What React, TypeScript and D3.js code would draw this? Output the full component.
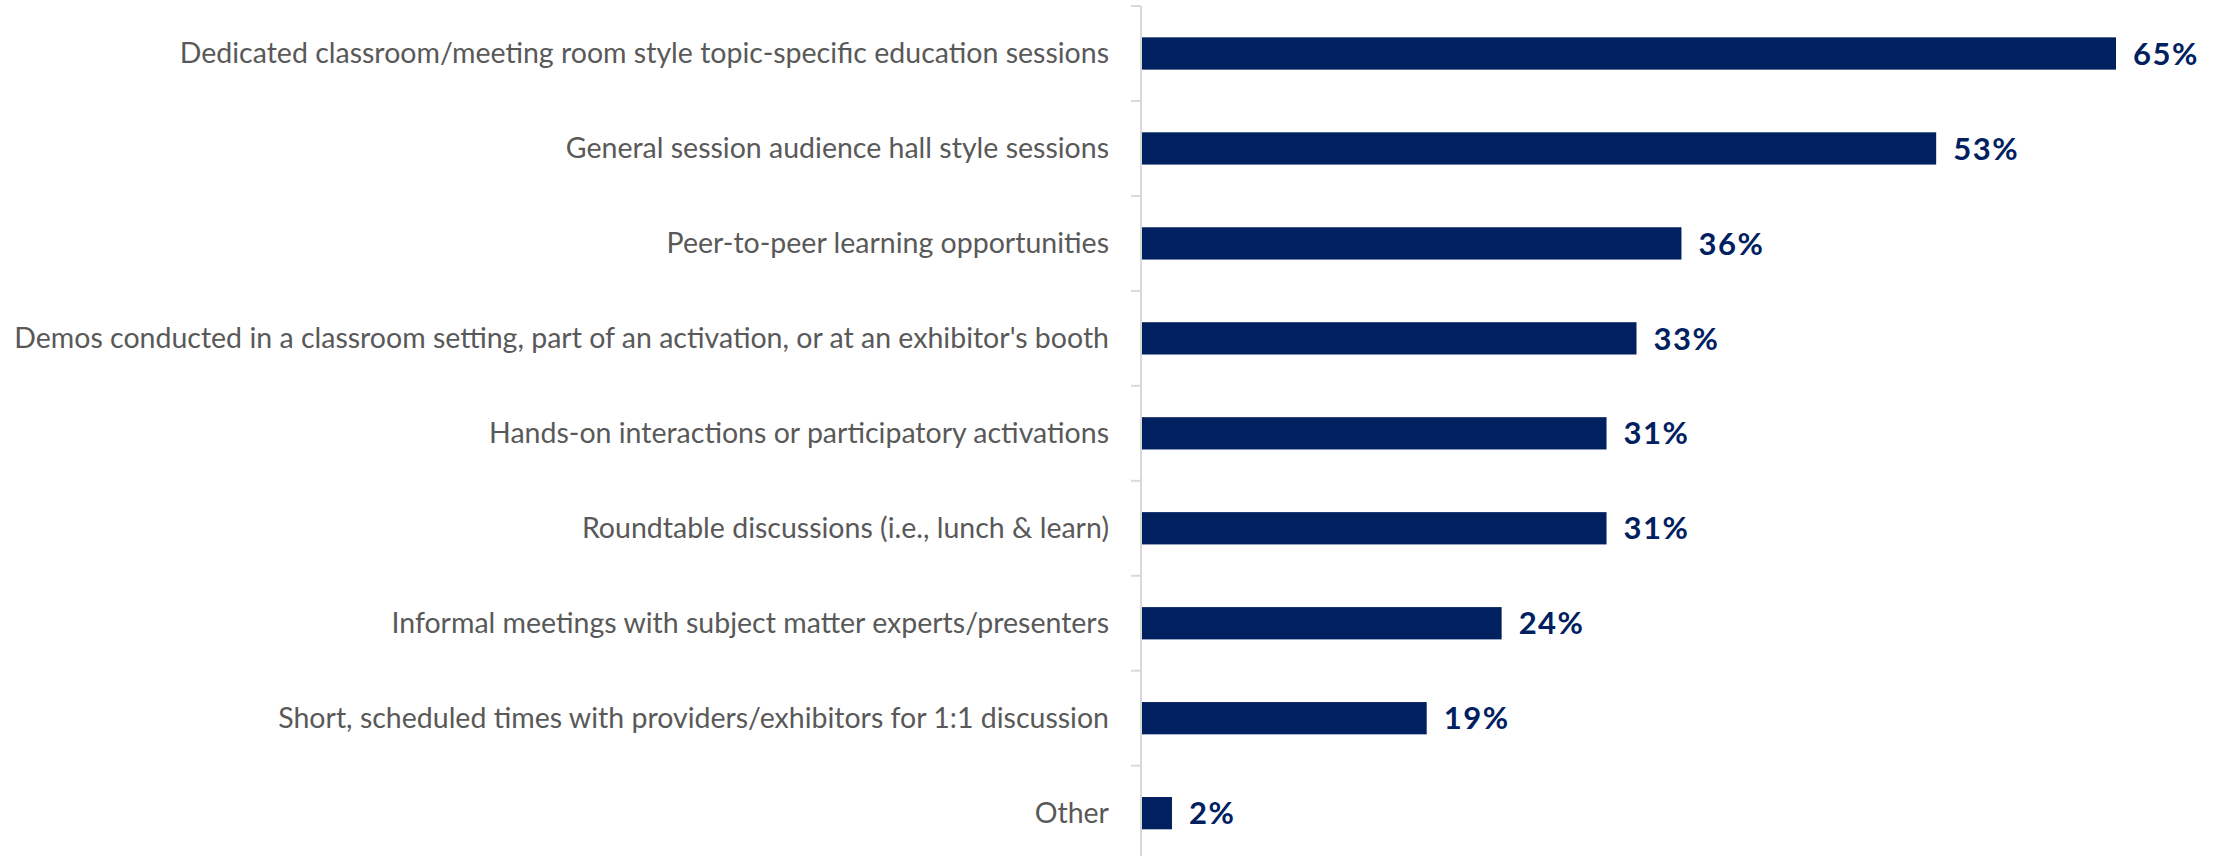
import React from "react";
import * as d3 from "d3";

const categories = [
  "Dedicated classroom/meeting room style topic-specific education sessions",
  "General session audience hall style sessions",
  "Peer-to-peer learning opportunities",
  "Demos conducted in a classroom setting, part of an activation, or at an exhibitor's booth",
  "Hands-on interactions or participatory activations",
  "Roundtable discussions (i.e., lunch & learn)",
  "Informal meetings with subject matter experts/presenters",
  "Short, scheduled times with providers/exhibitors for 1:1 discussion",
  "Other",
];
const values = [65, 53, 36, 33, 31, 31, 24, 19, 2];

const W = 2234;
const H = 856;
const axisX = 1141;
const bandTop = 6;
const step = 94.96;

export default function App() {
  const x = d3.scaleLinear().domain([0, 65]).range([axisX + 1, 2116]);
  const y = d3
    .scaleBand<string>()
    .domain(categories)
    .range([bandTop, bandTop + step * categories.length])
    .paddingInner(0.66)
    .paddingOuter(0.33);
  const ticks = categories.map((_, i) => bandTop + i * step);
  return (
    <svg
      width={W}
      height={H}
      style={{ position: "absolute", left: 0, top: 0, background: "#fff" }}
      fontFamily="Lato, 'Noto Sans', sans-serif"
    >
      <line x1={axisX} x2={axisX} y1={bandTop} y2={H} stroke="#d9d9d9" strokeWidth={2} />
      {ticks.map((t, i) => (
        <line key={i} x1={axisX - 10} x2={axisX} y1={t} y2={t} stroke="#d9d9d9" strokeWidth={2} />
      ))}
      {categories.map((c, i) => {
        const yc = (y(c) as number) + y.bandwidth() / 2;
        return (
          <g key={c}>
            <rect x={x(0)} y={y(c)} width={x(values[i]) - x(0)} height={y.bandwidth()} fill="#002060" />
            <text
              x={axisX - 32}
              y={yc}
              dy="0.35em"
              textAnchor="end"
              fontSize={28.5}
              fill="#595959"
            >
              {c}
            </text>
            <text
              x={x(values[i]) + 17}
              y={yc}
              dy="0.36em"
              fontSize={31}
              fontWeight="bold"
              letterSpacing={1.5}
              fill="#002060"
            >
              {values[i]}%
            </text>
          </g>
        );
      })}
    </svg>
  );
}
